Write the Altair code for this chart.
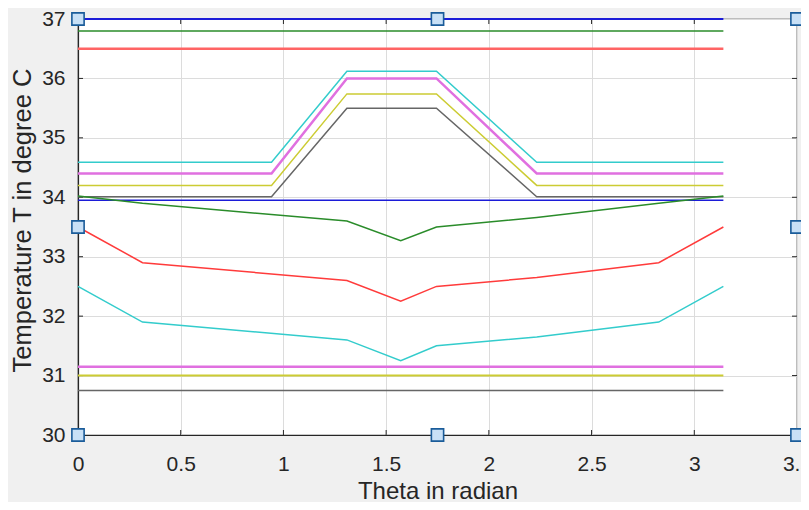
import altair as alt
import pandas as pd

PI = 3.14159

# ---- data ----
x_flat = [0.0, PI]
x_trap = [0.0, 0.942, 1.309, 1.745, 2.233, PI]
x_curve = [0.0, 0.314, 1.309, 1.571, 1.745, 2.233, 2.827, PI]

blue_top = [37.0, 37.0]
green_top = [36.8, 36.8]
red_top = [36.5, 36.5]
cyan_trap = [34.59, 34.59, 36.12, 36.12, 34.59, 34.59]
magenta_trap = [34.4, 34.4, 36.0, 36.0, 34.4, 34.4]
yellow_trap = [34.2, 34.2, 35.74, 35.74, 34.2, 34.2]
gray_trap = [34.01, 34.01, 35.5, 35.5, 34.01, 34.01]
blue_mid = [33.95, 33.95]
green_curve = [34.02, 33.9, 33.6, 33.27, 33.5, 33.66, 33.9, 34.02]
red_curve = [33.5, 32.9, 32.6, 32.25, 32.5, 32.65, 32.9, 33.5]
cyan_curve = [32.5, 31.9, 31.6, 31.25, 31.5, 31.65, 31.9, 32.5]
magenta_low = [31.15, 31.15]
yellow_low = [31.0, 31.0]
gray_low = [30.75, 30.75]

x_ticks = [0, 0.5, 1, 1.5, 2, 2.5, 3, 3.5]
y_ticks = [30, 31, 32, 33, 34, 35, 36, 37]

handle_x = [0, 1.75, 3.5, 0, 3.5, 0, 1.75, 3.5]
handle_y = [37, 37, 37, 33.5, 33.5, 30, 30, 30]

series = [
    ("s01", x_flat, blue_top),
    ("s02", x_flat, green_top),
    ("s03", x_flat, red_top),
    ("s04", x_trap, cyan_trap),
    ("s05", x_trap, magenta_trap),
    ("s06", x_trap, yellow_trap),
    ("s07", x_trap, gray_trap),
    ("s08", x_flat, blue_mid),
    ("s09", x_curve, green_curve),
    ("s10", x_curve, red_curve),
    ("s11", x_curve, cyan_curve),
    ("s12", x_flat, magenta_low),
    ("s13", x_flat, yellow_low),
    ("s14", x_flat, gray_low),
]

colors = {
    "s01": "#1c1cd8", "s02": "#2a8c2a", "s03": "#ff6464", "s04": "#33cccc",
    "s05": "#e070e0", "s06": "#cccc33", "s07": "#666666", "s08": "#1c1cd8",
    "s09": "#2a8c2a", "s10": "#ff3b3b", "s11": "#33cccc", "s12": "#e070e0",
    "s13": "#cccc33", "s14": "#666666",
}
widths = {"s03": 2.5, "s05": 2.5, "s12": 2.5, "s13": 2.0, "s01": 2.0}

rows = []
for name, xs, ys in series:
    for i, (xv, yv) in enumerate(zip(xs, ys)):
        rows.append({"series": name, "x": xv, "y": yv, "i": i,
                     "w": widths.get(name, 1.5)})
df = pd.DataFrame(rows)

W, H = 719, 416
xscale = alt.Scale(domain=[0, 3.5], nice=False, zero=False)
yscale = alt.Scale(domain=[30, 37], nice=False, zero=False)
AX = "#262626"
FONT = "Liberation Sans"

base = alt.Chart(df)

lines = base.mark_line(clip=False).encode(
    x=alt.X("x:Q", scale=xscale, axis=alt.Axis(
        values=x_ticks, format="~g", tickSize=0, domainColor=AX, domainWidth=1.2,
        gridColor="#dcdcdc", labelFont=FONT, labelFontSize=21, labelColor=AX,
        labelPadding=18, labelBaseline="top", labelFlush=False,
        title="Theta in radian", titleFont=FONT, titleFontSize=24,
        titleFontWeight="normal", titleColor=AX, titleBaseline="alphabetic",
        titleY=63)),
    y=alt.Y("y:Q", scale=yscale, axis=alt.Axis(
        values=y_ticks, format="~g", tickSize=0, domainColor=AX, domainWidth=1.2,
        gridColor="#dcdcdc", labelFont=FONT, labelFontSize=21, labelColor=AX,
        labelPadding=13, labelFlush=False,
        title="Temperature T in degree C", titleFont=FONT, titleFontSize=25.5,
        titleFontWeight="normal", titleColor=AX, titleBaseline="alphabetic",
        titleAlign="center", titleAngle=270, titleX=-48, titleY=201)),
    color=alt.Color("series:N", scale=alt.Scale(domain=list(colors.keys()),
                                                range=list(colors.values())),
                    legend=None),
    strokeWidth=alt.StrokeWidth("w:Q", scale=None),
    order="i:Q",
)

xt = pd.DataFrame({"t": x_ticks})
yt = pd.DataFrame({"t": y_ticks})
tick_x_top = alt.Chart(xt).mark_rule(color=AX, strokeWidth=1).encode(
    x=alt.X("t:Q", scale=xscale), y=alt.value(0), y2=alt.value(5))
tick_x_bot = alt.Chart(xt).mark_rule(color=AX, strokeWidth=1).encode(
    x=alt.X("t:Q", scale=xscale), y=alt.value(H), y2=alt.value(H - 5))
tick_y_l = alt.Chart(yt).mark_rule(color=AX, strokeWidth=1).encode(
    y=alt.Y("t:Q", scale=yscale), x=alt.value(0), x2=alt.value(5))
tick_y_r = alt.Chart(yt).mark_rule(color=AX, strokeWidth=1).encode(
    y=alt.Y("t:Q", scale=yscale), x=alt.value(W), x2=alt.value(W - 5))

hd = pd.DataFrame({"hx": handle_x, "hy": handle_y})
handles = alt.Chart(hd).mark_square(
    size=150, filled=True, fill="#c8e0f6", stroke="#1a5c9a", strokeWidth=1.6,
    opacity=1, clip=False
).encode(x=alt.X("hx:Q", scale=xscale), y=alt.Y("hy:Q", scale=yscale))

chart = alt.layer(tick_x_top, tick_x_bot, tick_y_l, tick_y_r, lines, handles).properties(
    width=W, height=H,
    background="#f0f0f0",
    autosize=alt.AutoSizeParams(type="none"),
    padding={"left": 70, "top": 11, "right": 4, "bottom": 67},
).configure_view(fill="white", stroke=AX, strokeWidth=1.2)

chart.save("out.html", embed_options={"renderer": "svg", "actions": False})
